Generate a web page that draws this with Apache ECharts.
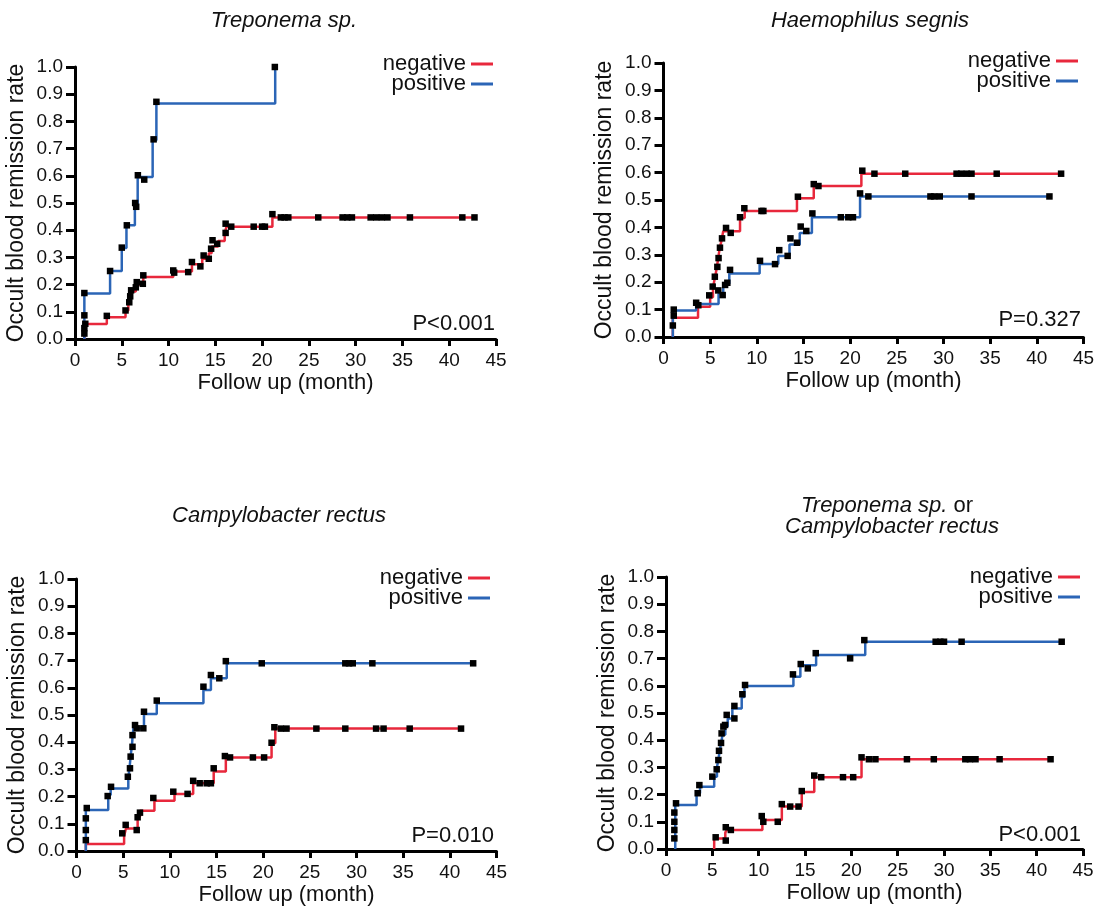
<!DOCTYPE html>
<html>
<head>
<meta charset="utf-8">
<script src="https://cdn.jsdelivr.net/npm/echarts@6/dist/echarts.min.js"></script>
<style>
html,body{margin:0;padding:0;background:#fff;}
#chart{width:1100px;height:912px;}
</style>
</head>
<body>
<div id="chart"></div>
<script>
// ---------- Data (time in months, remission rate) ----------
const xTicks = [0,5,10,15,20,25,30,35,40,45];
const yTicks = [0,0.1,0.2,0.3,0.4,0.5,0.6,0.7,0.8,0.9,1.0];
const groupNames = ['negative','positive'];

// Panel 1: Treponema sp.
const trepNegSteps = [[1,0],[1,0.055],[3.4,0.08],[5.4,0.105],[5.7,0.125],[5.85,0.15],[6.0,0.175],[6.5,0.2],[7.3,0.228],[10.5,0.248],[12.5,0.275],[13.6,0.295],[14.3,0.315],[14.6,0.34],[15.3,0.36],[16.0,0.39],[16.2,0.413],[21.1,0.447],[42.9,0.447]];
const trepNegCens = [[1,0.02],[1,0.04],[1.1,0.056],[1,0.087],[3.4,0.085],[5.4,0.105],[5.8,0.135],[5.9,0.157],[6.0,0.179],[6.5,0.19],[6.6,0.209],[7.25,0.203],[7.3,0.234],[10.5,0.252],[10.6,0.244],[12.1,0.246],[12.5,0.283],[13.4,0.267],[13.75,0.307],[14.3,0.295],[14.55,0.332],[14.7,0.363],[15.2,0.35],[16.1,0.39],[16.1,0.424],[16.7,0.413],[19.1,0.413],[20.0,0.413],[20.3,0.413],[21.1,0.459],[22.0,0.447],[22.4,0.447],[22.8,0.447],[26.0,0.447],[28.6,0.447],[29.1,0.447],[29.6,0.447],[31.6,0.447],[32.2,0.447],[32.8,0.447],[33.4,0.447],[35.8,0.447],[41.4,0.447],[42.7,0.447]];
const trepPosSteps = [[1,0],[1,0.167],[3.75,0.25],[5.0,0.335],[5.5,0.418],[6.4,0.497],[6.7,0.596],[8.3,0.731],[8.7,0.866],[21.4,1.0]];
const trepPosCens = [[1,0.169],[3.75,0.25],[5.0,0.336],[5.54,0.418],[6.43,0.5],[6.54,0.486],[6.72,0.602],[7.4,0.586],[8.4,0.734],[8.7,0.872],[21.36,1.0]];

// Panel 2: Haemophilus segnis
const hsegNegSteps = [[1,0],[1,0.07],[3.7,0.11],[5.0,0.145],[5.3,0.18],[5.5,0.215],[5.7,0.25],[5.85,0.285],[6.0,0.32],[6.2,0.35],[6.4,0.386],[8.2,0.434],[8.7,0.46],[14.3,0.506],[16.1,0.551],[21.2,0.596],[42.6,0.596]];
const hsegNegCens = [[3.73,0.116],[4.9,0.152],[5.27,0.184],[5.5,0.22],[5.77,0.256],[5.9,0.288],[6.05,0.326],[6.27,0.36],[6.7,0.398],[7.2,0.38],[8.2,0.437],[8.66,0.47],[10.5,0.46],[10.7,0.46],[14.4,0.512],[16.1,0.558],[16.6,0.551],[21.3,0.607],[22.6,0.596],[25.9,0.596],[31.4,0.596],[31.9,0.596],[32.5,0.596],[33.0,0.596],[35.7,0.596],[42.6,0.596]];
const hsegPosSteps = [[1,0],[1,0.097],[3.5,0.12],[5.9,0.158],[6.4,0.194],[7.05,0.232],[10.3,0.266],[12.3,0.296],[13.5,0.338],[14.6,0.38],[15.9,0.437],[21.06,0.513],[41.35,0.513]];
const hsegPosCens = [[1,0.042],[1.1,0.078],[1.1,0.1],[3.5,0.125],[5.87,0.17],[6.34,0.153],[6.6,0.19],[6.84,0.198],[7.13,0.245],[10.34,0.278],[11.95,0.266],[12.4,0.317],[13.3,0.296],[13.6,0.36],[14.3,0.344],[14.7,0.403],[15.3,0.387],[15.95,0.451],[19.0,0.437],[19.8,0.437],[20.3,0.437],[21.06,0.524],[21.95,0.513],[28.6,0.513],[29.0,0.513],[29.6,0.513],[33.0,0.513],[41.35,0.513]];

// Panel 3: Campylobacter rectus
const campNegSteps = [[1,0],[1,0.026],[5.1,0.055],[5.3,0.083],[6.55,0.126],[6.8,0.148],[8.35,0.185],[10.5,0.21],[12.5,0.249],[14.7,0.292],[16.0,0.344],[20.9,0.396],[21.3,0.45],[41.2,0.45]];
const campNegCens = [[4.9,0.065],[5.27,0.096],[6.45,0.077],[6.55,0.124],[6.8,0.141],[8.23,0.195],[10.37,0.218],[11.9,0.21],[12.5,0.258],[13.2,0.249],[13.95,0.249],[14.4,0.249],[14.7,0.304],[15.9,0.349],[16.45,0.344],[18.9,0.344],[20.1,0.344],[20.9,0.398],[21.2,0.455],[21.9,0.45],[22.5,0.45],[25.7,0.45],[28.8,0.45],[32.1,0.45],[32.9,0.45],[35.7,0.45],[41.2,0.45]];
const campPosSteps = [[1,0],[1,0.151],[3.4,0.206],[3.66,0.23],[5.55,0.27],[5.7,0.31],[5.8,0.35],[5.95,0.39],[6.0,0.42],[6.1,0.451],[7.23,0.504],[8.6,0.543],[13.6,0.592],[14.4,0.635],[16.1,0.69],[42.5,0.69]];
const campPosCens = [[1,0.04],[1,0.077],[1,0.12],[1.1,0.158],[3.34,0.202],[3.7,0.236],[5.5,0.273],[5.73,0.304],[5.8,0.347],[6.0,0.383],[6.0,0.426],[6.27,0.463],[6.45,0.451],[7.16,0.451],[7.23,0.512],[8.6,0.553],[13.6,0.604],[14.4,0.647],[15.3,0.635],[16.0,0.698],[19.85,0.69],[28.8,0.69],[29.2,0.69],[29.6,0.69],[31.7,0.69],[42.5,0.69]];

// Panel 4: Treponema sp. or Campylobacter rectus
const combNegSteps = [[5.2,0],[5.2,0.039],[6.4,0.06],[6.55,0.07],[10.4,0.107],[12.5,0.156],[14.65,0.21],[16.0,0.264],[21.1,0.33],[41.5,0.33]];
const combNegCens = [[5.36,0.043],[6.45,0.031],[6.45,0.08],[7.0,0.07],[10.33,0.121],[10.5,0.1],[12.06,0.1],[12.5,0.165],[13.4,0.156],[14.3,0.156],[14.65,0.213],[16.0,0.27],[16.75,0.264],[19.1,0.264],[20.2,0.264],[21.1,0.337],[21.9,0.33],[22.6,0.33],[26.0,0.33],[28.9,0.33],[32.3,0.33],[32.8,0.33],[33.4,0.33],[36.0,0.33],[41.5,0.33]];
const combPosSteps = [[1,0],[1,0.162],[3.3,0.205],[3.67,0.229],[5.2,0.266],[5.5,0.3],[5.7,0.34],[5.9,0.38],[6.1,0.42],[6.4,0.45],[6.66,0.48],[7.16,0.517],[8.17,0.559],[8.46,0.599],[13.75,0.633],[14.5,0.676],[16.2,0.713],[21.5,0.762],[42.7,0.762]];
const combPosCens = [[0.9,0.039],[0.9,0.07],[0.9,0.1],[0.9,0.134],[1.08,0.168],[3.42,0.205],[3.6,0.235],[5.0,0.266],[5.47,0.293],[5.65,0.327],[5.72,0.361],[5.94,0.39],[6.0,0.425],[6.19,0.45],[6.37,0.456],[6.55,0.493],[7.38,0.48],[7.38,0.526],[8.24,0.569],[8.53,0.603],[13.7,0.642],[14.54,0.68],[15.3,0.664],[16.16,0.72],[19.87,0.701],[21.4,0.768],[29.1,0.762],[29.6,0.762],[30.0,0.762],[31.9,0.762],[42.7,0.762]];

const pValues = ['P<0.001','P=0.327','P=0.010','P<0.001'];

// ---------- Layout / styling ----------
const FONT = '"Liberation Sans", Arial, Helvetica, sans-serif';
const RED = '#e8283c';
const BLUE = '#2b65b6';
const TXT = '#111';

const panels = [
  {neg:[trepNegSteps,trepNegCens], pos:[trepPosSteps,trepPosCens], grid:{left:75,top:67,width:421,height:272}, legend:{right:607,top:53}, p:{x:495,y:324}},
  {neg:[hsegNegSteps,hsegNegCens], pos:[hsegPosSteps,hsegPosCens], grid:{left:663.5,top:63,width:420,height:274}, legend:{right:22,top:50}, p:{x:1081,y:320}},
  {neg:[campNegSteps,campNegCens], pos:[campPosSteps,campPosCens], grid:{left:76.5,top:579,width:420,height:272}, legend:{right:610,top:567}, p:{x:494,y:836}},
  {neg:[combNegSteps,combNegCens], pos:[combPosSteps,combPosCens], grid:{left:666,top:577,width:417,height:272}, legend:{right:20,top:566}, p:{x:1081,y:835}}
];

const grid = [], xAxis = [], yAxis = [], series = [], legend = [], graphic = [];

panels.forEach((pn, i) => {
  grid.push(Object.assign({containLabel:false}, pn.grid));
  xAxis.push({
    type:'value', gridIndex:i, min:xTicks[0], max:xTicks[xTicks.length-1], interval:xTicks[1]-xTicks[0],
    name:'Follow up (month)', nameLocation:'middle', nameGap:33,
    nameTextStyle:{fontSize:22, color:TXT, fontFamily:FONT},
    axisLine:{onZero:false, lineStyle:{color:'#000', width:3}},
    axisTick:{length:7, lineStyle:{color:'#000', width:3}},
    axisLabel:{fontSize:19, color:TXT, margin:12, fontFamily:FONT},
    splitLine:{show:false}
  });
  yAxis.push({
    type:'value', gridIndex:i, min:yTicks[0], max:yTicks[yTicks.length-1], interval:0.1,
    name:'Occult blood remission rate', nameLocation:'middle', nameGap:47,
    nameTextStyle:{fontSize:23, color:TXT, fontFamily:FONT},
    axisLine:{onZero:false, lineStyle:{color:'#000', width:3}},
    axisTick:{length:9, lineStyle:{color:'#000', width:3}},
    axisLabel:{fontSize:19, color:TXT, margin:12, fontFamily:FONT, formatter:v => v.toFixed(1)},
    splitLine:{show:false}
  });
  [['negative', pn.neg, RED], ['positive', pn.pos, BLUE]].forEach(([nm, d, col]) => {
    series.push({
      name:nm, type:'line', xAxisIndex:i, yAxisIndex:i, data:d[0], step:'end',
      symbol:'none', showSymbol:false, clip:false, z:2,
      color:col, itemStyle:{color:col}, lineStyle:{color:col, width:2.5}
    });
  });
  [pn.neg[1], pn.pos[1]].forEach(c => {
    series.push({
      name:'censored', type:'scatter', xAxisIndex:i, yAxisIndex:i, data:c,
      symbol:'rect', symbolSize:6.5, clip:false, z:3,
      itemStyle:{color:'#000', opacity:1}
    });
  });
  legend.push({
    data:groupNames, orient:'vertical', right:pn.legend.right, top:pn.legend.top,
    align:'right', icon:'rect', itemWidth:22, itemHeight:3, itemGap:-2,
    selectedMode:false, padding:0,
    textStyle:{fontSize:22, lineHeight:20, color:TXT, fontFamily:FONT}
  });
  graphic.push({
    type:'text', x:pn.p.x, y:pn.p.y,
    style:{text:pValues[i], font:'22px ' + FONT, fill:TXT, textAlign:'right', textVerticalAlign:'middle'}
  });
});

// Panel titles
const titleFont = 'italic 22px ' + FONT;
graphic.push(
  {type:'text', x:284, y:21, style:{text:'Treponema sp.', font:titleFont, fill:TXT, textAlign:'center', textVerticalAlign:'middle'}},
  {type:'text', x:870, y:21, style:{text:'Haemophilus segnis', font:titleFont, fill:TXT, textAlign:'center', textVerticalAlign:'middle'}},
  {type:'text', x:279, y:516, style:{text:'Campylobacter rectus', font:titleFont, fill:TXT, textAlign:'center', textVerticalAlign:'middle'}},
  {type:'text', x:887, y:506, style:{text:'{i|Treponema sp.}{n| or}', fill:TXT, textAlign:'center', textVerticalAlign:'middle',
    rich:{i:{fontStyle:'italic', fontSize:22, fontFamily:FONT, fill:TXT}, n:{fontSize:22, fontFamily:FONT, fill:TXT}}}},
  {type:'text', x:892, y:527, style:{text:'Campylobacter rectus', font:titleFont, fill:TXT, textAlign:'center', textVerticalAlign:'middle'}}
);

const chart = echarts.init(document.getElementById('chart'), null, {renderer:'canvas'});
chart.setOption({
  backgroundColor:'#fff',
  animation:false,
  textStyle:{fontFamily:FONT},
  grid, xAxis, yAxis, series, legend, graphic
});
</script>
</body>
</html>
